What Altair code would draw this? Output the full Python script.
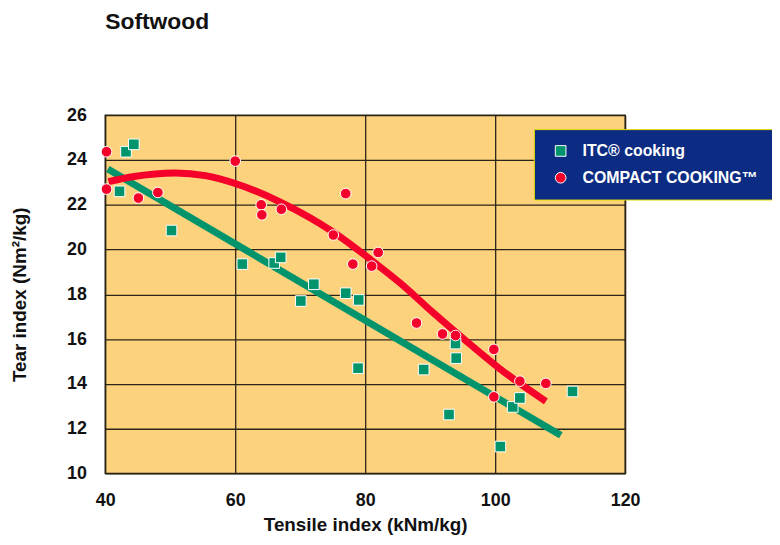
import altair as alt
import pandas as pd

# ---- data ----
series_names = ["ITC® cooking", "COMPACT COOKING™"]

itc_tensile = [43.2, 44.4, 42.2, 50.2, 61.1, 66.0, 67.0, 70.1, 72.1, 77.0,
               79.0, 78.9, 89.0, 92.9, 93.9, 94.0, 100.8, 102.7, 103.8, 111.9]
itc_tear = [24.37, 24.7, 22.6, 20.85, 19.35, 19.4, 19.65, 17.7, 18.45, 18.05,
            17.75, 14.7, 14.64, 12.63, 15.8, 15.15, 11.2, 12.97, 13.37, 13.66]

cc_tensile = [40.2, 40.2, 45.1, 48.1, 60.0, 64.0, 64.1, 67.1, 77.0, 75.1,
              78.1, 81.0, 82.0, 87.9, 91.9, 93.9, 99.8, 103.8, 107.8, 99.8]
cc_tear = [24.37, 22.7, 22.3, 22.55, 23.95, 22.0, 21.55, 21.8, 22.5, 20.65,
           19.35, 19.26, 19.87, 16.72, 16.23, 16.16, 15.54, 14.12, 14.02, 13.42]

itc_fit_tensile = [40.4, 110.1]
itc_fit_tear = [23.6, 11.7]

cc_fit_tensile = [40.5, 44.2, 50.8, 55.4, 60.0, 67.1, 75.1, 80.8, 85.4, 90.5, 95.6, 100.7, 107.8]
cc_fit_tear = [23.03, 23.25, 23.42, 23.3, 22.95, 22.1, 20.78, 19.56, 18.5, 17.17, 15.9, 14.68, 13.22]

x_ticks = [40, 60, 80, 100, 120]
y_ticks = [10, 12, 14, 16, 18, 20, 22, 24, 26]

# ---- tables ----
points = pd.DataFrame({
    "tensile": itc_tensile + cc_tensile,
    "tear": itc_tear + cc_tear,
    "series": [series_names[0]] * len(itc_tensile) + [series_names[1]] * len(cc_tensile),
})
itc_fit = pd.DataFrame({"tensile": itc_fit_tensile, "tear": itc_fit_tear})
cc_fit = pd.DataFrame({"tensile": cc_fit_tensile, "tear": cc_fit_tear})

GREEN = "#00946c"
RED = "#f5002a"
FONT = "Liberation Sans"

x_enc = alt.X("tensile:Q", scale=alt.Scale(domain=[40, 120], nice=False),
              axis=alt.Axis(values=x_ticks, title="Tensile index (kNm/kg)",
                            titleX=262, titleY=52, titleBaseline="middle",
                            labelPadding=18, labelFlush=False))
y_enc = alt.Y("tear:Q", scale=alt.Scale(domain=[10, 26], nice=False),
              axis=alt.Axis(values=y_ticks, title="Tear index (Nm²/kg)",
                            titleX=-86, titleY=180.5, titleBaseline="middle",
                            labelPadding=19))

itc_line = alt.Chart(itc_fit).mark_line(strokeWidth=7, color=GREEN).encode(x=x_enc, y=y_enc)
cc_line = alt.Chart(cc_fit).mark_line(strokeWidth=7, color=RED, interpolate="monotone").encode(x=x_enc, y=y_enc)

pts = alt.Chart(points).mark_point(filled=True, opacity=1, stroke="white", strokeWidth=1).encode(
    x=x_enc, y=y_enc,
    color=alt.Color("series:N", scale=alt.Scale(domain=series_names, range=[GREEN, RED]), title=None),
    shape=alt.Shape("series:N", scale=alt.Scale(domain=series_names, range=["square", "circle"]), title=None),
)

chart = alt.layer(itc_line, cc_line, pts).properties(
    width=524, height=361,
    title="Softwood",
    autosize=alt.AutoSizeParams(type="none"),
    padding={"left": 98, "top": 106, "right": 148, "bottom": 60},
).configure_view(
    fill="#fdd27d", stroke="#2b2418", strokeWidth=1.5,
).configure_point(
    size=115,
).configure_axis(
    domain=False, ticks=False, grid=True, gridColor="#2b2418", gridWidth=1.3, gridOpacity=1,
    labelFont=FONT, labelFontSize=18, labelFontWeight="bold", labelColor="#111111",
    titleFont=FONT, titleFontSize=19, titleFontWeight="bold", titleColor="#111111",
).configure_title(
    anchor="start", frame="group", font=FONT, fontSize=23, fontWeight="bold",
    color="#111111", offset=73, baseline="alphabetic",
).configure_legend(
    orient="none", legendX=432, legendY=14,
    fillColor="#0c2b82", strokeColor="#e8e000",
    padding=14, rowPadding=11, labelOffset=14, symbolOffset=5,
    labelFont=FONT, labelFontSize=16, labelFontWeight="bold", labelColor="white",
    symbolSize=115, symbolStrokeColor="white", symbolStrokeWidth=1, labelLimit=300,
)

chart.save("out.html", embed_options={"renderer": "svg", "actions": False})
